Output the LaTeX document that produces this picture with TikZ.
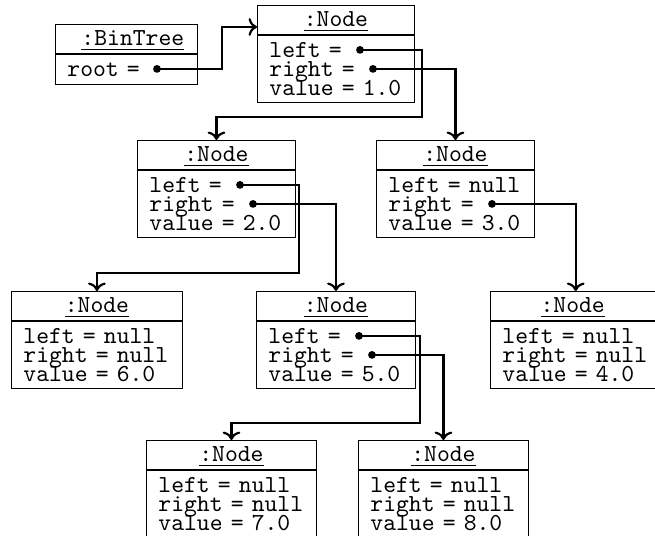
\documentclass[tikz,border=0pt]{standalone}
\usetikzlibrary{calc,arrows.meta}
\def\pxu{0.4375pt}
\newcommand\objfontcmd{\ttfamily\fontsize{10.7pt}{8.4pt}\selectfont\lineskiplimit -10pt\relax}
\tikzset{
  objfont/.style={font={\objfontcmd}},
  objtitle/.style={draw, line width=0.4pt, objfont, minimum height={29*\pxu}, inner sep=0pt,
    anchor=north west, text height=6.4pt, text depth=0.5pt},
  objbody/.style={draw, line width=0.4pt, objfont, minimum height={67*\pxu}, inner xsep={12*\pxu},
    inner ysep=0pt, anchor=north west, align=left},
  ptr/.style={line width=0.95pt, -{To}},
  refdot/.style={fill=black}
}
\newcommand\umlobj[6]{% name, x, y, width, title, body
  \pgfmathsetlengthmacro\objtw{(#4-24)*0.4375}%
  \pgfmathsetlengthmacro\objw{#4*0.4375}%
  \node[objtitle, minimum width=\objw] (#1t) at (#2,#3) {#5};
  \node[objbody, text width=\objtw] (#1b) at (#1t.south west) {#6};
}
\begin{document}
\begin{tikzpicture}[x=0.4375pt, y=-0.4375pt]
\useasboundingbox (0,0) rectangle (655,536);
% BinTree
\pgfmathsetlengthmacro\objw{142*0.4375}
\node[objtitle, minimum width=\objw] (bt) at (55,24) {\hspace*{5.6pt}\underline{:BinTree}};
\pgfmathsetlengthmacro\objtw{(142-24)*0.4375}
\node[objbody, text width=\objtw, minimum height=13.1pt] (btb) at (bt.south west) {root =};
% objects
\umlobj{n1}{257}{5}{157}{\underline{:Node}}{left =\\right =\\value = 1.0}
\umlobj{n2}{137}{140}{158}{\underline{:Node}}{left =\\right =\\value = 2.0}
\umlobj{n3}{376}{140}{158}{\underline{:Node}}{left = null\\right =\\value = 3.0}
\umlobj{n6}{11}{291}{171}{\underline{:Node}}{left = null\\right = null\\value = 6.0}
\umlobj{n5}{256}{291}{159}{\underline{:Node}}{left =\\right =\\value = 5.0}
\umlobj{n4}{490}{291}{164.5}{\underline{:Node}}{left~=~null\\right~=~null\\value~=~4.0}
\umlobj{n7}{146}{440}{170}{\underline{:Node}}{left = null\\right = null\\value = 7.0}
\umlobj{n8}{358}{440}{170}{\underline{:Node}}{left = null\\right = null\\value = 8.0}
% reference dots
\coordinate (btr) at ($(btb.north west)+(102,15)$);
\foreach \o in {n1,n2,n5}{
  \coordinate (\o l) at ($(\o b.north west)+(103,15)$);
}
\foreach \o in {n1,n2,n3,n5}{
  \coordinate (\o r) at ($(\o b.north west)+(116,34)$);
}
\foreach \c in {btr,n1l,n1r,n2l,n2r,n3r,n5l,n5r}{
  \fill[refdot] (\c) circle (1.7pt);
}
% connectors
\draw[ptr] (btr) -- ++(65,0) |- ($(n1t.west)+(0,7)$);
\draw[ptr] (n1l) -- ++(62,0) |- ($(n2t.north)+(0,-23)$) -- (n2t.north);
\draw[ptr] (n1r) -| (n3t.north);
\draw[ptr] (n2l) -- ++(59,0) |- ($(n6t.north)+(0,-18)$) -- (n6t.north);
\draw[ptr] (n2r) -| (n5t.north);
\draw[ptr] (n3r) -| ($(n4t.north)+(3,0)$);
\draw[ptr] (n5l) -- ++(61,0) |- ($(n7t.north)+(0,-17)$) -- (n7t.north);
\draw[ptr] (n5r) -| (n8t.north);
\end{tikzpicture}
\end{document}
